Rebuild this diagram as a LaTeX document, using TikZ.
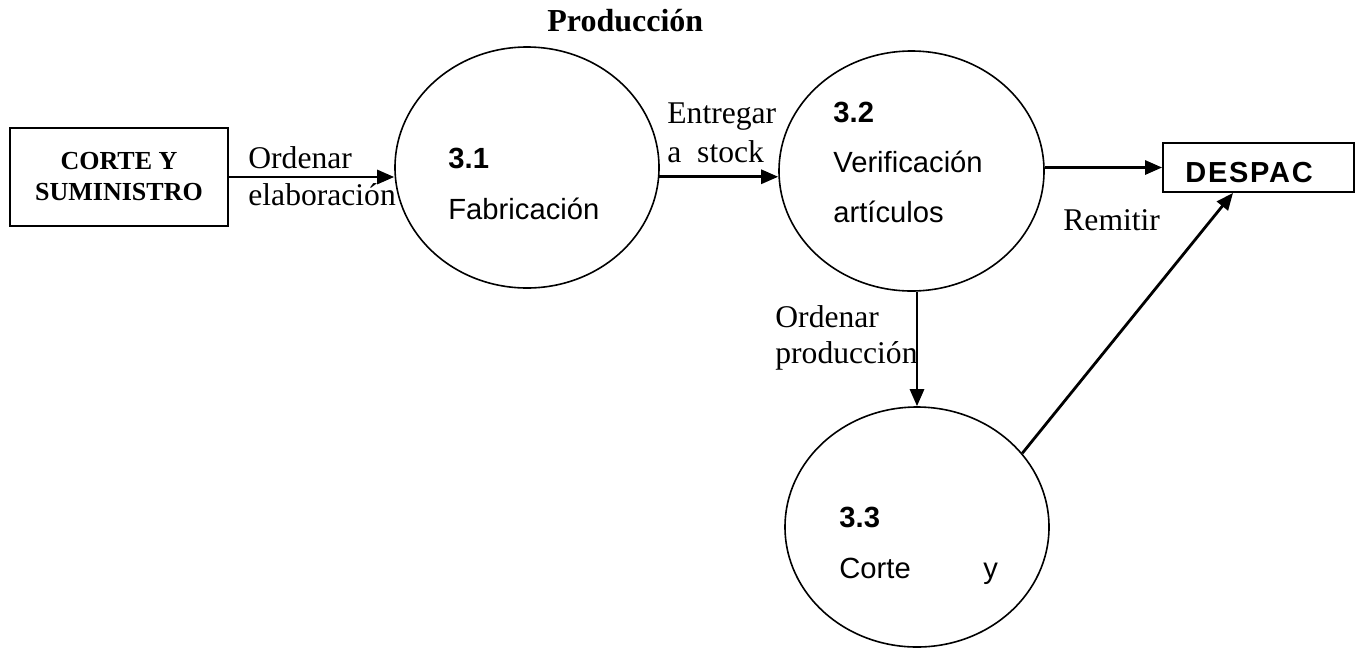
\documentclass[tikz,border=0pt]{standalone}
\usepackage{fontspec}
\setmainfont{Liberation Serif}
\newfontfamily\arialf{Liberation Sans}
\newfontfamily\despacf[LetterSpace=6]{Liberation Sans}
\usetikzlibrary{shapes.geometric,arrows.meta,calc}
\begin{document}
\begin{tikzpicture}[x=0.5pt,y=-0.5pt,
  proc/.style={draw,ellipse,line width=0.8pt,inner sep=0pt},
  ent/.style={draw,rectangle,line width=0.9pt,inner sep=0pt},
  flow/.style={line width=1.4pt,-{Triangle[length=8.5pt,width=7pt]}},
  lbl/.style={anchor=base west,inner sep=0pt,font=\fontsize{15.8}{18}\selectfont},
  ptxt/.style={anchor=base west,inner sep=0pt,font=\arialf\fontsize{14.6}{17}\selectfont},
  pnum/.style={anchor=base west,inner sep=0pt,font=\arialf\bfseries\fontsize{14.6}{17}\selectfont}]
\useasboundingbox (0,0) rectangle (1363,649);
% title
\node[anchor=base west,inner sep=0pt,font=\bfseries\fontsize{16}{19}\selectfont] (title) at (547,31) {Producción};
% entities
\node[ent,minimum width=109pt,minimum height=49pt,align=center,font=\bfseries\fontsize{13}{15.5}\selectfont] (cs) at (119,177) {CORTE Y\\SUMINISTRO};
\node[ent,minimum width=95.5pt,minimum height=24.5pt] (desp) at (1258.5,167.5) {};
\node[anchor=base west,inner sep=0pt,font=\despacf\bfseries\fontsize{14.5}{16}\selectfont] (desptxt) at (1185,182) {DESPAC};
% processes
\node[proc,minimum width=132pt,minimum height=120.5pt] (e1) at (527,167.5) {};
\node[proc,minimum width=132.5pt,minimum height=120pt] (e2) at (911.5,171) {};
\node[proc,minimum width=132pt,minimum height=120pt] (e3) at (917,527) {};
% process texts
\node[pnum] (n31) at (448,168) {3.1};
\node[ptxt] (t31) at (448,219) {Fabricación};
\node[pnum] (n32) at (833,122) {3.2};
\node[ptxt] (t32a) at (833,172) {Verificación};
\node[ptxt] (t32b) at (833,222) {artículos};
\node[pnum] (n33) at (839,527) {3.3};
\node[ptxt] (t33a) at (839,578) {Corte};
\node[ptxt] (t33b) at (983,578) {y};
% flow labels
\node[lbl] (l1a) at (248,168) {Ordenar};
\node[lbl] (l1b) at (248,205) {elaboración};
\node[lbl] (l2a) at (667,123) {Entregar};
\node[lbl] (l2b) at (667,162) {a\ \ stock};
\node[lbl] (l3a) at (775,327) {Ordenar};
\node[lbl] (l3b) at (775,363) {producción};
\node[lbl] (l4) at (1063,230) {Remitir};
% flows
\draw[flow] (cs.east) -- (cs.east -| e1.west);
\draw[flow] (e1.-4) -- (e1.-4 -| e2.west);
\draw[flow] (desp.west -| e2.east) -- (desp.west);
\draw[flow] (e3.north |- e2.south) -- (e3.north);
\draw[flow] (e3.35.5) -- ([xshift=-12.75pt]desp.south);
\end{tikzpicture}
\end{document}
